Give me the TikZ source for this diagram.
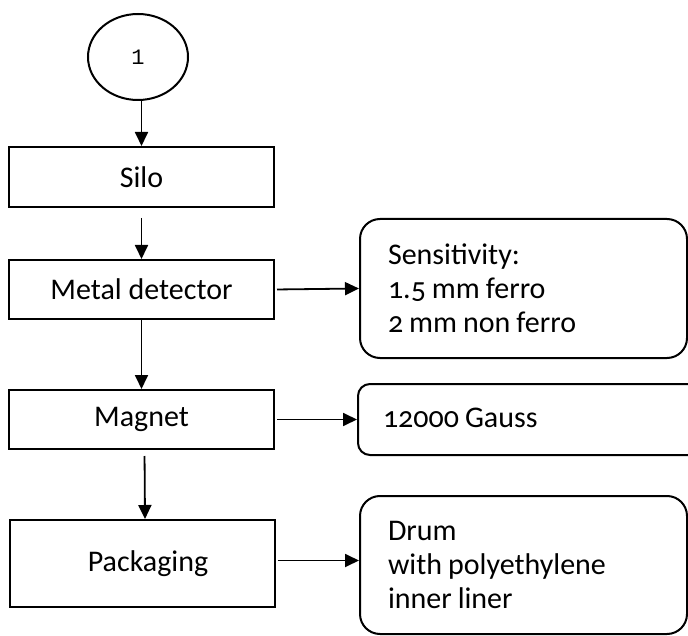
\documentclass[tikz,border=0pt]{standalone}
\usepackage{fontspec}
\setmainfont{Carlito}[Numbers=OldStyle]
\newfontfamily\monof{Liberation Mono}
\usetikzlibrary{shapes.geometric,arrows.meta}
\newcommand\tightsp{\spaceskip=0.2em\relax}
\begin{document}
\begin{tikzpicture}[x=1pt,y=-1pt,
  font=\fontsize{30}{34}\selectfont,
  line width=2pt,
  proc/.style={draw,line width=2pt,rectangle,minimum width=265pt,inner sep=0pt},
  note/.style={draw,line width=2pt,rectangle,rounded corners=#1,align=left,inner sep=0pt,anchor=center},
  arr/.style={line width=1.8pt,-{Triangle[length=14pt,width=13pt]}}]
\clip (0,0) rectangle (688,636);
\node[draw,line width=2pt,ellipse,minimum width=100pt,minimum height=86pt,inner sep=0pt,font=\monof\fontsize{22}{24}\selectfont] (c) at (138,57) {1};
\node[proc,minimum height=60pt] (silo) at (141.5,177) {Silo};
\node[proc,minimum height=59pt] (md) at (141.5,289.5) {Metal detector};
\node[proc,minimum height=59pt] (mag) at (141.5,419.5) {Magnet};
\node[proc,minimum height=87pt] (pack) at (142,563.5) {\hspace{12pt}Packaging};
\node[note=20pt,minimum width=327pt,minimum height=139pt,text width=271pt] (sens) at (523.5,288.5) {\tightsp Sensitivity:\\1.5 mm ferro\\2 mm non ferro};
\node[note=12pt,minimum width=342pt,minimum height=71pt,text width=292pt] (gauss) at (529,419.5) {\tightsp\raisebox{3pt}{12000 Gauss}};
\node[note=20pt,minimum width=327pt,minimum height=138pt,text width=271pt] (drum) at (523.5,565) {\tightsp Drum\\with polyethylene\\inner liner};
\draw[arr] (c.south -| silo.north) -- (silo.north);
\draw[arr,shorten <=10pt] (silo.south) -- (md.north);
\draw[arr] (md.south) -- (mag.north);
\draw[arr,shorten <=6pt] ([xshift=3pt]mag.south) -- ([xshift=3pt]pack.north);
\draw[arr,shorten <=2pt] (md.east) -- (sens.west);
\draw[arr,shorten <=2pt] (mag.east) -- (gauss.west);
\draw[arr,shorten <=2pt] ([yshift=3pt]pack.east) -- ([yshift=3pt]pack.east -| drum.west);
\end{tikzpicture}
\end{document}
